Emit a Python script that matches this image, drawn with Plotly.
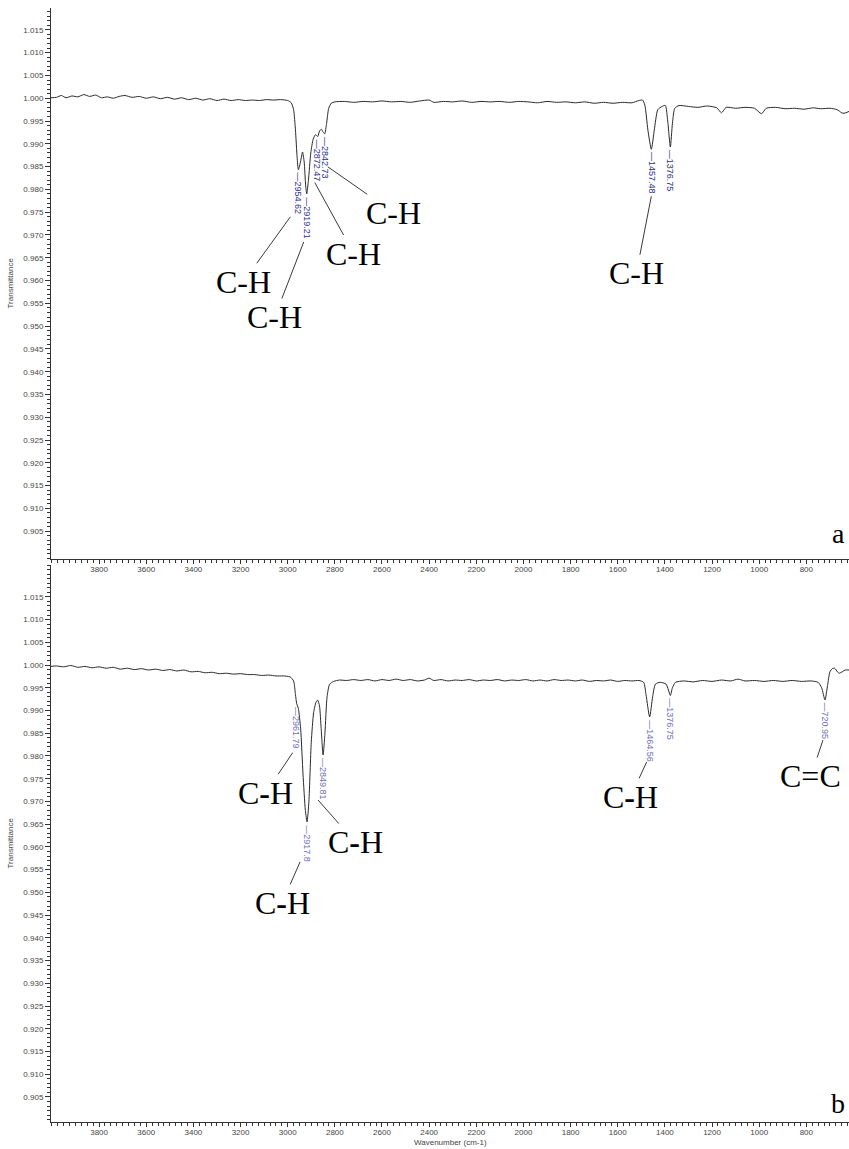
import plotly.graph_objects as go

# ---- spectrum a ----
WN_A = [4004, 3981, 3960, 3940, 3915, 3890, 3865, 3840, 3815, 3790, 3765, 3740, 3715, 3690,
        3660, 3630, 3600, 3570, 3540, 3510, 3480, 3450, 3420, 3390, 3360, 3330, 3300,
        3270, 3240, 3210, 3180, 3150, 3120, 3090, 3060, 3030, 3000, 2985, 2975, 2967,
        2960, 2954.62, 2945, 2937, 2930, 2924, 2919.21, 2912, 2902, 2892, 2882, 2872.47,
        2865, 2857, 2850, 2842.73, 2835, 2826, 2815, 2800, 2760, 2720, 2680, 2640, 2600,
        2560, 2520, 2480, 2440, 2400, 2380, 2340, 2300, 2260, 2220, 2180, 2140, 2100,
        2060, 2020, 1980, 1940, 1900, 1860, 1820, 1780, 1740, 1700, 1660, 1620, 1580,
        1540, 1510, 1495, 1485, 1472, 1457.48, 1445, 1430, 1412, 1398, 1388, 1376.75,
        1368, 1358, 1340, 1300, 1260, 1220, 1180, 1160, 1140, 1100, 1060, 1020, 990,
        970, 930, 890, 850, 810, 770, 740, 700, 670, 650, 640, 619]
T_A = [1.0001, 1.0002, 1.0006, 1.0001, 1.0005, 1.0003, 1.0008, 1.0004, 1.0007, 1.0001, 1.0003,
       1.0000, 1.0004, 1.0006, 1.0002, 1.0004, 1.0000, 1.0003, 0.9999, 1.0002, 0.9998,
       1.0001, 0.9997, 1.0000, 0.9996, 0.9999, 0.9995, 0.9998, 0.9995, 0.9997, 0.9995,
       0.9996, 0.9995, 0.9997, 0.9996, 0.9997, 0.9995, 0.9990, 0.9975, 0.9930, 0.9870,
       0.9843, 0.9862, 0.9882, 0.9860, 0.9810, 0.9790, 0.9820, 0.9880, 0.9910, 0.9920,
       0.9916, 0.9928, 0.9932, 0.9926, 0.9922, 0.9945, 0.9978, 0.9989, 0.9992, 0.9993,
       0.9991, 0.9993, 0.9992, 0.9994, 0.9992, 0.9993, 0.9991, 0.9994, 0.9996, 0.9991,
       0.9993, 0.9992, 0.9994, 0.9991, 0.9993, 0.9992, 0.9993, 0.9991, 0.9993, 0.9992,
       0.9990, 0.9993, 0.9991, 0.9992, 0.9990, 0.9992, 0.9989, 0.9991, 0.9989, 0.9991,
       0.9990, 0.9995, 0.9996, 0.9985, 0.9930, 0.9888, 0.9930, 0.9975, 0.9982, 0.9984,
       0.9950, 0.9893, 0.9945, 0.9978, 0.9984, 0.9982, 0.9980, 0.9983, 0.9979, 0.9968,
       0.9980, 0.9978, 0.9980, 0.9978, 0.9966, 0.9978, 0.9980, 0.9977, 0.9978, 0.9976,
       0.9979, 0.9977, 0.9978, 0.9975, 0.9968, 0.9967, 0.9971]

# ---- spectrum b ----
WN_B = [4004, 3981, 3950, 3920, 3890, 3860, 3830, 3800, 3770, 3740, 3710, 3680, 3650, 3620,
        3590, 3560, 3530, 3500, 3470, 3440, 3410, 3380, 3350, 3320, 3290, 3260, 3230,
        3200, 3170, 3140, 3110, 3080, 3050, 3020, 2990, 2975, 2967, 2961.79, 2955, 2945,
        2935, 2925, 2917.8, 2910, 2900, 2890, 2880, 2873, 2865, 2858, 2849.81, 2842,
        2833, 2822, 2805, 2780, 2750, 2720, 2690, 2660, 2630, 2600, 2570, 2540, 2510,
        2480, 2450, 2420, 2400, 2380, 2350, 2320, 2290, 2260, 2230, 2200, 2170, 2140,
        2110, 2080, 2050, 2020, 1990, 1960, 1930, 1900, 1870, 1840, 1810, 1780, 1750,
        1720, 1690, 1660, 1630, 1600, 1570, 1540, 1510, 1490, 1480, 1464.56, 1452, 1440,
        1420, 1395, 1385, 1376.75, 1368, 1355, 1320, 1280, 1240, 1200, 1160, 1120, 1090,
        1060, 1020, 980, 940, 900, 860, 820, 780, 750, 735, 720.95, 710, 700, 690, 680,
        668, 660, 648, 635, 619]
T_B = [0.9997, 0.9998, 0.9996, 0.9999, 0.9995, 0.9997, 0.9994, 0.9996, 0.9993, 0.9995, 0.9991,
       0.9993, 0.9990, 0.9992, 0.9989, 0.9991, 0.9988, 0.9990, 0.9987, 0.9989, 0.9985,
       0.9986, 0.9983, 0.9984, 0.9981, 0.9982, 0.9980, 0.9981, 0.9979, 0.9979, 0.9977,
       0.9978, 0.9976, 0.9976, 0.9974, 0.9965, 0.9935, 0.9915, 0.9905, 0.9860, 0.9760,
       0.9680, 0.9655, 0.9700, 0.9830, 0.9895, 0.9918, 0.9923, 0.9910, 0.9860, 0.9802,
       0.9850, 0.9930, 0.9958, 0.9964, 0.9967, 0.9966, 0.9968, 0.9966, 0.9968, 0.9965,
       0.9968, 0.9966, 0.9969, 0.9966, 0.9968, 0.9965, 0.9967, 0.9971, 0.9966, 0.9968,
       0.9965, 0.9967, 0.9966, 0.9968, 0.9965, 0.9967, 0.9966, 0.9968, 0.9965, 0.9967,
       0.9966, 0.9968, 0.9965, 0.9967, 0.9965, 0.9968, 0.9966, 0.9967, 0.9965, 0.9967,
       0.9964, 0.9966, 0.9965, 0.9967, 0.9964, 0.9966, 0.9965, 0.9966, 0.9962, 0.9935,
       0.9886, 0.9930, 0.9958, 0.9962, 0.9958, 0.9945, 0.9933, 0.9950, 0.9962, 0.9965,
       0.9963, 0.9966, 0.9964, 0.9967, 0.9965, 0.9969, 0.9965, 0.9966, 0.9964, 0.9966,
       0.9964, 0.9966, 0.9964, 0.9965, 0.9962, 0.9950, 0.9923, 0.9955, 0.9985, 0.9992,
       0.9993, 0.9985, 0.9982, 0.9985, 0.9989, 0.9989]

# labelled peak positions (cm-1)
PEAKS_A = [2954.62, 2919.21, 2872.47, 2842.73, 1457.48, 1376.75]
PEAKS_B = [2961.79, 2917.8, 2849.81, 1464.56, 1376.75, 720.95]

# band assignments: (peak, group)
BANDS_A = [(2954.62, "C-H"), (2919.21, "C-H"), (2872.47, "C-H"),
           (2842.73, "C-H"), (1457.48, "C-H")]
BANDS_B = [(2961.79, "C<b>-</b>H"), (2917.8, "C<b>-</b>H"), (2849.81, "C<b>-</b>H"),
           (1464.56, "C<b>-</b>H"), (720.95, "C=C")]

# leader geometry in pixels: (shift_x, shift_y, text_dx, text_dy)
LEADERS_A = [(-8, -47, -47, 65), (-3, -48, -29, 75), (-3, -46, 39, 71),
             (3, -33, 66, 46), (0, -47, -15, 77)]
LEADERS_B = [(-4, -49, -27, 40), (-7, -40, -18, 41), (-5, -45, 37, 42),
             (-3, -45, -16, 35), (-2, -40, -12, 36)]

X_TICKS = list(range(3800, 799, -200))
Y_TICKS = [round(0.905 + 0.005 * i, 3) for i in range(23)]
X_RANGE = [4004, 619]

W, H = 849, 1149
X_DOM = [51 / W, 1.0]
Y_DOM_A = [1 - 559 / H, 1 - 8 / H]
Y_DOM_B = [1 - 1122 / H, 1 - 565 / H]
Y_RANGE_A = [0.8989, 1.0198]
Y_RANGE_B = [0.8995, 1.0220]

AX = "#333333"
TICK_FONT = dict(family="Liberation Sans, Arial", size=8, color="#444444")
SERIF = "Liberation Serif, Times New Roman"


def value_at(wn, tr, w):
    return tr[wn.index(w)]


fig = go.Figure()
fig.add_trace(go.Scatter(x=WN_A, y=T_A, mode="lines", xaxis="x", yaxis="y",
                         line=dict(color="#2a2a2a", width=1, shape="spline", smoothing=0.6),
                         hoverinfo="skip", showlegend=False))
fig.add_trace(go.Scatter(x=WN_B, y=T_B, mode="lines", xaxis="x2", yaxis="y2",
                         line=dict(color="#2a2a2a", width=1, shape="spline", smoothing=0.6),
                         hoverinfo="skip", showlegend=False))

xcommon = dict(range=X_RANGE, autorange=False, domain=X_DOM, showgrid=False,
               zeroline=False, showline=True, linecolor=AX, linewidth=1,
               ticks="outside", ticklen=4, tickcolor=AX, tickwidth=1,
               tickvals=X_TICKS, ticktext=[str(v) for v in X_TICKS],
               tickfont=TICK_FONT, ticklabelstandoff=-2,
               minor=dict(ticks="outside", ticklen=3, tickcolor=AX, dtick=25, tick0=800))
ycommon = dict(showgrid=False, zeroline=False, showline=True, linecolor=AX, linewidth=1,
               ticks="outside", ticklen=5, tickcolor=AX, tickwidth=1,
               tickvals=Y_TICKS, ticktext=[f"{v:.3f}" for v in Y_TICKS],
               tickfont=TICK_FONT,
               minor=dict(ticks="outside", ticklen=3, tickcolor=AX, dtick=0.001, tick0=0.9))

fig.update_layout(
    width=W, height=H, margin=dict(l=0, r=0, t=0, b=0),
    paper_bgcolor="white", plot_bgcolor="white",
    xaxis=dict(anchor="y", **xcommon),
    yaxis=dict(anchor="x", domain=Y_DOM_A, range=Y_RANGE_A, autorange=False, **ycommon),
    xaxis2=dict(anchor="y2", **xcommon),
    yaxis2=dict(anchor="x2", domain=Y_DOM_B, range=Y_RANGE_B, autorange=False, **ycommon),
)

ann = []


def peak_labels(peaks, wn, tr, xref, yref, color):
    for p in peaks:
        ann.append(dict(x=p, y=value_at(wn, tr, p), xref=xref, yref=yref,
                        text="—" + str(p), textangle=90, showarrow=False,
                        xanchor="center", yanchor="top", yshift=-1,
                        font=dict(family="Liberation Sans, Arial", size=9, color=color)))


def band_labels(bands, leaders, wn, tr, xref, yref):
    for (p, label), (sx, sy, dx, dy) in zip(bands, leaders):
        ann.append(dict(x=p, y=value_at(wn, tr, p), xref=xref, yref=yref,
                        xshift=sx, yshift=sy, text=label, showarrow=True,
                        arrowhead=0, arrowwidth=1, arrowcolor="#3a3a3a",
                        ax=dx, ay=dy, axref="pixel", ayref="pixel", borderpad=0,
                        font=dict(family=SERIF, size=32, color="black")))


peak_labels(PEAKS_A, WN_A, T_A, "x", "y", "#2f2f8c")
peak_labels(PEAKS_B, WN_B, T_B, "x2", "y2", "#6f6fb8")
band_labels(BANDS_A, LEADERS_A, WN_A, T_A, "x", "y")
band_labels(BANDS_B, LEADERS_B, WN_B, T_B, "x2", "y2")

# panel letters
ann.append(dict(x=1, y=0.9045, xref="paper", yref="y", text="a", showarrow=False,
                xanchor="right", yanchor="middle", xshift=-2,
                font=dict(family=SERIF, size=28, color="black")))
ann.append(dict(x=1, y=0.9035, xref="paper", yref="y2", text="b", showarrow=False,
                xanchor="right", yanchor="middle", xshift=-2,
                font=dict(family=SERIF, size=28, color="black")))

# axis titles
for dom in (Y_DOM_A, Y_DOM_B):
    ann.append(dict(x=10 / W, y=(dom[0] + dom[1]) / 2, xref="paper", yref="paper",
                    text="Transmittance", textangle=-90, showarrow=False,
                    xanchor="center", yanchor="middle",
                    font=dict(family="Liberation Sans, Arial", size=8, color="#444444")))
ann.append(dict(x=450 / W, y=0, xref="paper", yref="paper",
                text="Wavenumber (cm-1)", showarrow=False,
                xanchor="center", yanchor="bottom", yshift=0,
                font=dict(family="Liberation Sans, Arial", size=8, color="#444444")))

fig.update_layout(annotations=ann)
fig.write_html("out.html")
